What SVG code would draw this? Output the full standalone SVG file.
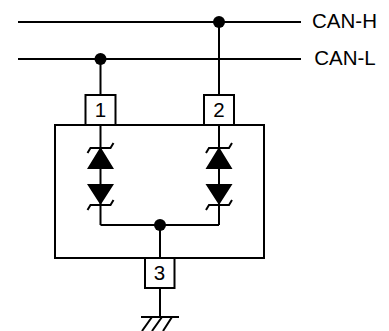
<svg xmlns="http://www.w3.org/2000/svg" width="389" height="331" viewBox="0 0 389 331">
<style>
.w{fill:none;stroke:#000;stroke-width:2}
.b{fill:#fff;stroke:#000;stroke-width:2}
.f{fill:#000;stroke:none}
text{font-family:"Liberation Sans",Arial,sans-serif;font-size:20.500px;fill:#000;text-anchor:middle}
</style>
<defs>
<g id="pair">
<path class="w" d="M0 125V225"/>
<path class="f" d="M0 147L13.500 169H-13.500ZM0 205L-13.500 184H13.500Z"/>
<path class="w" d="M-13 153L-10 148H10L13 143M-13 210L-10 205H10L13 200"/>
</g>
</defs>
<g id="ic"><rect class="b" x="55" y="125" width="209" height="133"/></g>
<g id="connectors">
<path class="w" d="M18 22H301M18 59H301M100.500 59V95M219 22V95M100.500 225H219M160 225V258M160 288V317M141 317H179M152 317L142 331M162 317L152 331M172 317L163 331"/>
<circle class="f" cx="100.500" cy="59" r="6"/>
<circle class="f" cx="219" cy="22" r="6"/>
<circle class="f" cx="160" cy="225" r="6"/>
</g>
<g id="d1"><use href="#pair" x="100.500"/></g>
<g id="d2"><use href="#pair" x="219"/></g>
<g id="pin1"><rect class="b" x="85.500" y="95" width="30" height="30"/><text x="100.500" y="117">1</text></g>
<g id="pin2"><rect class="b" x="204" y="95" width="30" height="30"/><text x="219" y="117">2</text></g>
<g id="pin3"><rect class="b" x="145" y="258" width="29.500" height="30"/><text x="159.500" y="280">3</text></g>
<g id="canh"><text x="344.500" y="28">CAN-H</text></g>
<g id="canl"><text x="345" y="65">CAN-L</text></g>
</svg>
